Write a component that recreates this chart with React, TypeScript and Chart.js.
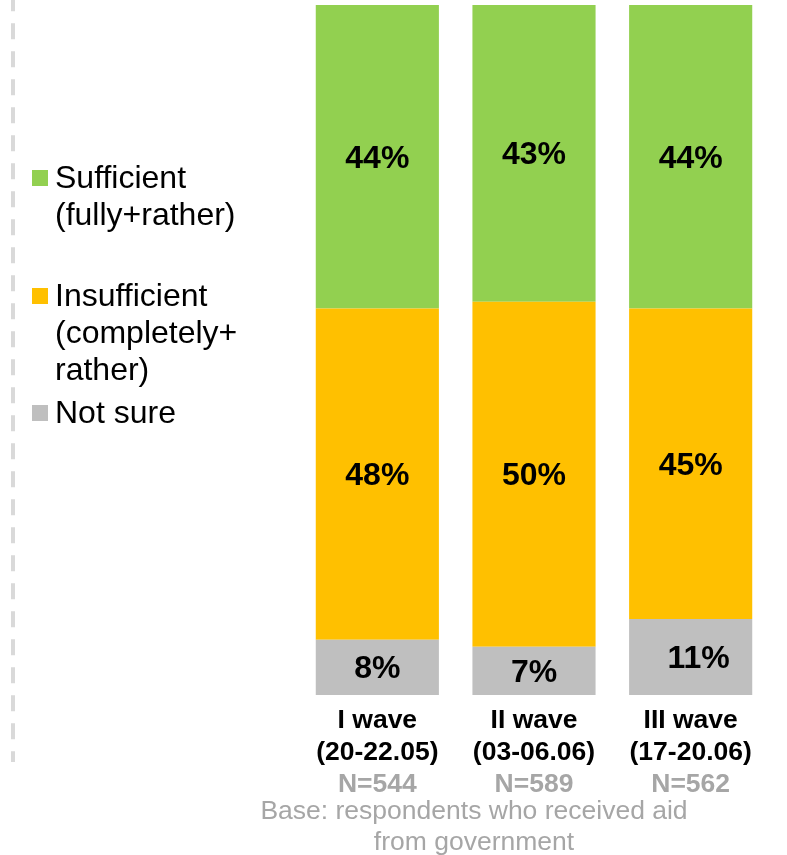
import React, { useEffect, useRef } from "react";
import { Chart, registerables } from "chart.js";

Chart.register(...registerables);

const categories = ["I wave", "II wave", "III wave"];
const periods = ["(20-22.05)", "(03-06.06)", "(17-20.06)"];
const sampleSizes = ["N=544", "N=589", "N=562"];

const seriesNames = ["Not sure", "Insufficient (completely+ rather)", "Sufficient (fully+rather)"];
const legendLines = [["Not sure"], ["Insufficient", "(completely+", "rather)"], ["Sufficient", "(fully+rather)"]];
const notSure = [8, 7, 11];
const insufficient = [48, 50, 45];
const sufficient = [44, 43, 44];
const seriesColors = ["#BFBFBF", "#FFC000", "#92D050"];

const footerLines = ["Base: respondents who received aid", "from government"];

const FONT = '"Liberation Sans", Arial, sans-serif';

export default function App() {
  const ref = useRef<HTMLCanvasElement | null>(null);

  useEffect(() => {
    const canvas = ref.current;
    if (!canvas) return;

    const overlay = {
      id: "overlay",
      afterDatasetsDraw(chart: any) {
        const ctx = chart.ctx;
        ctx.save();
        ctx.fillStyle = "#000";
        ctx.font = `bold 32px ${FONT}`;
        ctx.textAlign = "center";
        ctx.textBaseline = "middle";
        chart.data.datasets.forEach((ds: any, di: number) => {
          const meta = chart.getDatasetMeta(di);
          meta.data.forEach((el: any, i: number) => {
            const p = el.getProps(["x", "y", "base"], true);
            const cy = (p.y + p.base) / 2;
            const dx = di === 0 && ds.data[i] >= 10 ? 8 : 0;
            ctx.fillText(`${ds.data[i]}%`, p.x + dx, cy + 2);
          });
        });
        ctx.restore();
      },
      afterDraw(chart: any) {
        const ctx = chart.ctx;
        ctx.save();
        // dashed separator
        ctx.strokeStyle = "#D9D9D9";
        ctx.lineWidth = 4;
        ctx.setLineDash([16, 12]);
        ctx.lineDashOffset = 4.7;
        ctx.beginPath();
        ctx.moveTo(13, 0);
        ctx.lineTo(13, 762);
        ctx.stroke();
        ctx.setLineDash([]);

        // legend (top item first = last dataset)
        const itemY = [178, 296, 413];
        const order = [2, 1, 0];
        ctx.font = `32px ${FONT}`;
        ctx.textAlign = "left";
        ctx.textBaseline = "middle";
        order.forEach((di, k) => {
          const y0 = itemY[k];
          ctx.fillStyle = seriesColors[di];
          ctx.fillRect(32, y0 - 8, 16, 16);
          ctx.fillStyle = "#000";
          legendLines[di].forEach((line, li) => {
            ctx.fillText(line, 55, y0 + 1 + li * 37);
          });
        });

        // category labels
        const xs = chart.scales.x;
        ctx.textAlign = "center";
        categories.forEach((c, i) => {
          const x = xs.getPixelForValue(i);
          ctx.font = `bold 26.5px ${FONT}`;
          ctx.fillStyle = "#000";
          ctx.fillText(c, x, 721);
          ctx.fillText(periods[i], x, 753);
          ctx.fillStyle = "#A6A6A6";
          ctx.fillText(sampleSizes[i], x, 785);
        });

        // footer
        ctx.font = `26.5px ${FONT}`;
        ctx.fillStyle = "#A6A6A6";
        footerLines.forEach((line, i) => {
          ctx.fillText(line, 474, 812 + i * 31);
        });
        ctx.restore();
      },
    };

    const datasetValues = [notSure, insufficient, sufficient];
    const chart = new Chart(canvas, {
      type: "bar",
      data: {
        labels: categories,
        datasets: datasetValues.map((vals, i) => ({
          label: seriesNames[i],
          data: vals,
          backgroundColor: seriesColors[i],
          borderWidth: 0,
          barPercentage: 0.786,
          categoryPercentage: 1,
        })),
      },
      options: {
        responsive: false,
        maintainAspectRatio: false,
        animation: false,
        layout: { padding: { left: 299, right: 18, top: 5, bottom: 160 } },
        scales: {
          x: { stacked: true, display: false },
          y: { stacked: true, display: false, min: 0, max: 100 },
        },
        plugins: {
          legend: { display: false },
          tooltip: { enabled: false },
        },
      },
      plugins: [overlay],
    });
    return () => chart.destroy();
  }, []);

  return (
    <div style={{ position: "fixed", left: 0, top: 0, width: 787, height: 855, background: "#fff" }}>
      <canvas ref={ref} width={787} height={855} style={{ display: "block", width: 787, height: 855 }} />
    </div>
  );
}
